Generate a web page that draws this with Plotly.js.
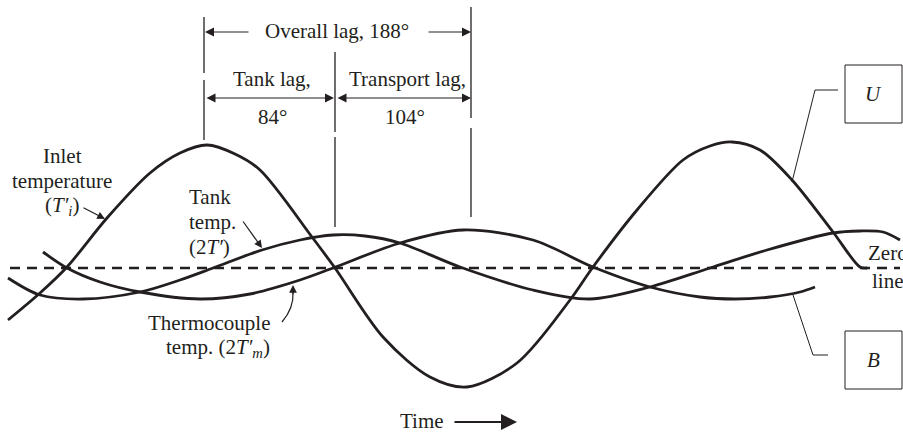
<!DOCTYPE html>
<html>
<head>
<meta charset="utf-8">
<script src="https://cdn.plot.ly/plotly-3.0.1.min.js"></script>
<style>html,body{margin:0;padding:0;background:#fff;}#chart{width:903px;height:434px;}</style>
</head>
<body>
<div id="chart"></div>
<script>
// Time positions (horizontal) and temperature deviations (vertical, in figure units; zero line at 268)
const inletX = [8, 40, 67, 107, 150, 180, 207, 235, 260, 312, 335, 383, 430, 467, 517, 570, 593, 637, 683, 710, 732, 760, 792, 833, 860, 867];
const inletY = [320, 293, 267, 218, 173, 153, 145, 154, 170, 237, 268, 337, 377, 387, 363, 300, 267, 210, 160, 146, 142, 150, 180, 232, 267, 268];

const tankX = [8, 40, 83, 140, 180, 213, 262, 300, 333, 365, 400, 460, 533, 590, 650, 710, 767, 833, 860, 883, 900];
const tankY = [278, 295, 299, 292, 280, 268, 250, 240, 235, 236, 243, 267, 290, 299, 287, 268, 250, 233, 231, 232, 240];

const thermoX = [43, 67, 100, 140, 200, 250, 300, 333, 400, 463, 533, 593, 650, 700, 735, 770, 800, 815];
const thermoY = [252, 268, 282, 292, 299, 294, 280, 268, 243, 230, 240, 267, 287, 297, 299, 297, 292, 287];

const zeroLevel = 268;
const zeroX = [10, 900];

const INK = '#231f20';
const FONT = {family: 'Liberation Serif, Times New Roman, serif', size: 21, color: INK};

const curve = (x, y) => ({
  type: 'scatter', mode: 'lines', x: x, y: y,
  line: {color: INK, width: 2.8, shape: 'spline', smoothing: 0.9},
  hoverinfo: 'skip'
});

const data = [
  {type: 'scatter', mode: 'lines', x: zeroX, y: [zeroLevel, zeroLevel],
   line: {color: INK, width: 2.6, dash: '10px,7px'}, hoverinfo: 'skip'},
  curve(inletX, inletY),
  curve(tankX, tankY),
  curve(thermoX, thermoY)
];

const vline = (x, y0, y1, w) => ({type: 'line', xref: 'x', yref: 'y', x0: x, x1: x, y0: y0, y1: y1,
  line: {color: INK, width: w || 1.3}});

const shapes = [
  vline(204, 17, 73), vline(204, 80, 140),
  vline(335, 52, 132), vline(335, 137, 227),
  vline(471, 7, 118), vline(471, 128, 217),
  {type: 'rect', xref: 'x', yref: 'y', x0: 845, x1: 902, y0: 65, y1: 123, line: {color: INK, width: 1}},
  {type: 'rect', xref: 'x', yref: 'y', x0: 845, x1: 902, y0: 331, y1: 389, line: {color: INK, width: 1}},
  {type: 'path', xref: 'x', yref: 'y', path: 'M 838 90 L 815 90 L 792 182', line: {color: INK, width: 1}},
  {type: 'path', xref: 'x', yref: 'y', path: 'M 828 355 L 813 355 L 793 295', line: {color: INK, width: 1}},
  {type: 'path', xref: 'x', yref: 'y', path: 'M 282 322 Q 294 308 293 292', line: {color: INK, width: 1.2}}
];

const txt = (s, x, y, xanchor, extra) => Object.assign({
  text: s, x: x, y: y, xref: 'x', yref: 'y', showarrow: false,
  xanchor: xanchor || 'center', yanchor: 'middle', font: FONT
}, extra || {});

const arrow = (x, y, ax, ay, both, opts) => Object.assign({
  text: '', x: x, y: y, ax: ax, ay: ay, xref: 'x', yref: 'y', axref: 'x', ayref: 'y',
  showarrow: true, arrowhead: 2, arrowsize: 1.5, arrowwidth: 1.2, arrowcolor: INK,
  standoff: 0, startstandoff: 0,
  arrowside: both ? 'end+start' : 'end', startarrowhead: 2, startarrowsize: 1.5
}, opts || {});

const annotations = [
  txt('Overall lag, 188°', 337, 31),
  txt('Tank lag,', 272, 79),
  txt('84°', 272, 117),
  txt('Transport lag,', 407, 79),
  txt('104°', 405, 117),
  txt('Inlet', 62, 156),
  txt('temperature', 62, 181),
  txt('(<i>T′<sub>i</sub></i>)', 62, 206),
  txt('Tank', 210, 197),
  txt('temp.', 212, 222),
  txt('(2<i>T′</i>)', 209, 247),
  txt('Thermocouple', 272, 323, 'right'),
  txt('temp. (2<i>T′<sub>m</sub></i>)', 272, 348, 'right'),
  txt('Time', 422, 421),
  txt('Zero', 866, 253, 'left'),
  txt('line', 870, 281, 'left'),
  txt('<i>U</i>', 873, 94),
  txt('<i>B</i>', 873, 360),
  arrow(205, 32, 250, 32, false),
  arrow(471, 32, 427, 32, false),
  arrow(334, 98, 205, 98, true),
  arrow(471, 98, 336, 98, true),
  arrow(105, 219, 82, 207, false, {arrowsize: 1.3}),
  arrow(262, 248, 242, 220, false, {arrowsize: 1.3}),
  arrow(293, 285, 293, 296, false, {arrowsize: 1.3}),
  arrow(517, 422, 453, 422, false, {arrowwidth: 2, arrowsize: 1.6})
];

const layout = {
  width: 903, height: 434,
  margin: {l: 0, r: 0, t: 0, b: 0},
  paper_bgcolor: '#fff', plot_bgcolor: '#fff',
  showlegend: false,
  xaxis: {range: [0, 903], visible: false, fixedrange: true},
  yaxis: {range: [434, 0], visible: false, fixedrange: true},
  shapes: shapes,
  annotations: annotations
};

Plotly.newPlot('chart', data, layout, {staticPlot: true, displayModeBar: false});
</script>
</body>
</html>
